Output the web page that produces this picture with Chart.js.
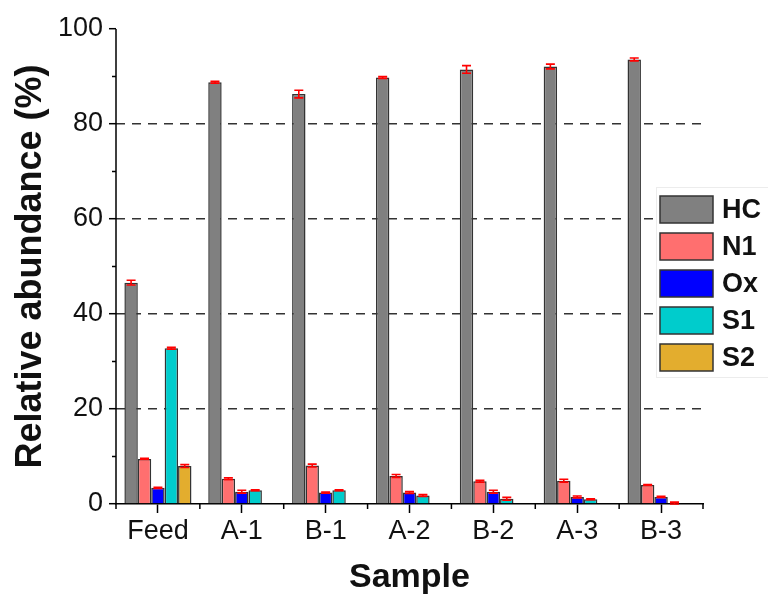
<!DOCTYPE html>
<html>
<head>
<meta charset="utf-8">
<script src="https://cdn.jsdelivr.net/npm/chart.js@4.4.1/dist/chart.umd.min.js"></script>
<style>
  html, body { margin: 0; padding: 0; background: #fff; }
  #wrap { width: 768px; height: 601px; position: relative; }
</style>
</head>
<body>
<div id="wrap"><canvas id="chart"></canvas></div>
<script>
var samples = ['Feed', 'A-1', 'B-1', 'A-2', 'B-2', 'A-3', 'B-3'];
var seriesNames = ['HC', 'N1', 'Ox', 'S1', 'S2'];
var seriesColors = ['#808080', '#FF6F6F', '#0000FF', '#00CCCC', '#E3AD2E'];

var hc    = [46.6, 88.8, 86.3, 89.8, 91.5, 92.1, 93.6];
var hcErr = [0.5, 0.2, 0.8, 0.2, 0.8, 0.5, 0.3];
var n1    = [9.5, 5.3, 8.1, 5.9, 4.8, 4.9, 4.0];
var n1Err = [0.1, 0.2, 0.3, 0.3, 0.2, 0.3, 0.1];
var ox    = [3.4, 2.6, 2.4, 2.4, 2.6, 1.5, 1.5];
var oxErr = [0.1, 0.3, 0.1, 0.2, 0.3, 0.2, 0.1];
var s1    = [32.8, 2.9, 2.9, 1.8, 1.1, 1.0, 0.2];
var s1Err = [0.2, 0.1, 0.1, 0.2, 0.3, 0.1, 0.2];
var s2    = [8.0, null, null, null, null, null, null];
var s2Err = [0.3, null, null, null, null, null, null];

var yTicks = [0, 20, 40, 60, 80, 100];

var values = [hc, n1, ox, s1, s2];
var errors = [hcErr, n1Err, oxErr, s1Err, s2Err];

var datasets = [];
for (var i = 0; i < seriesNames.length; i++) {
    datasets.push({
        label: seriesNames[i],
        data: values[i],
        errors: errors[i],
        backgroundColor: seriesColors[i],
        borderColor: '#333333',
        borderWidth: 1.5,
        categoryPercentage: 0.8,
        barPercentage: 1.0
    });
}

// red error bars on top of each bar
var errorBars = {
    id: 'errorBars',
    afterDatasetsDraw: function(chart) {
        var ctx = chart.ctx;
        var y = chart.scales.y;
        ctx.save();
        ctx.strokeStyle = '#FF0000';
        ctx.lineWidth = 1.6;
        chart.data.datasets.forEach(function(ds, di) {
            var meta = chart.getDatasetMeta(di);
            meta.data.forEach(function(bar, j) {
                var v = ds.data[j], e = ds.errors[j];
                if (v === null || e === null) return;
                var top = y.getPixelForValue(v + e);
                var bot = y.getPixelForValue(Math.max(v - e, 0));
                var x = bar.x;
                ctx.beginPath();
                ctx.moveTo(x, top); ctx.lineTo(x, bot);
                ctx.moveTo(x - 4.5, top); ctx.lineTo(x + 4.5, top);
                ctx.moveTo(x - 4.5, bot); ctx.lineTo(x + 4.5, bot);
                ctx.stroke();
            });
        });
        ctx.restore();
    }
};

// y axis line, minor ticks and the legend box
var extras = {
    id: 'extras',
    afterDraw: function(chart) {
        var ctx = chart.ctx;
        var ys = chart.scales.y;
        var area = chart.chartArea;
        ctx.save();
        ctx.setLineDash([]);
        ctx.strokeStyle = '#000';
        ctx.lineWidth = 1.5;
        ctx.beginPath();
        ctx.moveTo(area.left, area.top); ctx.lineTo(area.left, area.bottom + 0.75);
        for (var v = 10; v < 100; v += 20) {
            var py = ys.getPixelForValue(v);
            ctx.moveTo(area.left - 4, py); ctx.lineTo(area.left, py);
        }
        var n = samples.length;
        for (var k = 0; k <= n; k++) {
            var px = area.left + k * (area.right - area.left) / n;
            ctx.moveTo(px, area.bottom); ctx.lineTo(px, area.bottom + 5);
        }
        ctx.stroke();

        // legend
        ctx.fillStyle = '#fff';
        ctx.fillRect(656, 187, 112, 190);
        ctx.strokeStyle = '#ececec';
        ctx.lineWidth = 1;
        ctx.strokeRect(656.5, 187.5, 120, 190);
        ctx.font = 'bold 27px "Liberation Sans", Arial, sans-serif';
        ctx.textBaseline = 'middle';
        chart.data.datasets.forEach(function(ds, i) {
            var by = 196 + i * 37;
            ctx.fillStyle = ds.backgroundColor;
            ctx.fillRect(660, by, 53, 27);
            ctx.strokeStyle = '#333';
            ctx.lineWidth = 1.5;
            ctx.strokeRect(660, by, 53, 27);
            ctx.fillStyle = '#111';
            ctx.fillText(ds.label, 722, by + 15);
        });
        ctx.restore();
    }
};

new Chart(document.getElementById('chart'), {
    type: 'bar',
    data: { labels: samples, datasets: datasets },
    plugins: [errorBars, extras],
    options: {
        responsive: true,
        maintainAspectRatio: false,
        animation: false,
        layout: { padding: { top: 29, right: 65, left: 0, bottom: 0 } },
        plugins: {
            legend: { display: false },
            tooltip: { enabled: false }
        },
        scales: {
            x: {
                afterFit: function(scale) { scale.height = 97; },
                grid: {
                    offset: false,
                    drawOnChartArea: false,
                    tickLength: 9,
                    tickColor: '#000',
                    tickWidth: 1.5,
                    tickBorderDash: []
                },
                border: { color: '#000', width: 1.5 },
                ticks: {
                    color: '#111',
                    padding: 2,
                    font: { family: '"Liberation Sans", Arial, sans-serif', size: 27 }
                },
                title: {
                    display: true,
                    text: 'Sample',
                    color: '#111',
                    padding: { top: 0, bottom: 3 },
                    font: { family: '"Liberation Sans", Arial, sans-serif', size: 34, weight: 'bold' }
                }
            },
            y: {
                min: 0,
                max: 100,
                afterFit: function(scale) { scale.width = 116; },
                afterBuildTicks: function(scale) {
                    scale.ticks = yTicks.map(function(v) { return { value: v }; });
                },
                grid: {
                    color: function(c) {
                        var v = c.tick ? c.tick.value : 0;
                        return (v > 0 && v < 100) ? '#333' : 'rgba(0,0,0,0)';
                    },
                    lineWidth: 1.4,
                    tickLength: 7,
                    tickColor: '#000',
                    tickWidth: 1.5,
                    tickBorderDash: []
                },
                border: { display: false, dash: [9, 7] },
                ticks: {
                    color: '#111',
                    padding: 6,
                    font: { family: '"Liberation Sans", Arial, sans-serif', size: 27 }
                },
                title: {
                    display: true,
                    text: 'Relative abundance (%)',
                    color: '#111',
                    padding: { top: 9, bottom: 0 },
                    font: { family: '"Liberation Sans", Arial, sans-serif', size: 36, weight: 'bold' }
                }
            }
        }
    }
});
</script>
</body>
</html>
